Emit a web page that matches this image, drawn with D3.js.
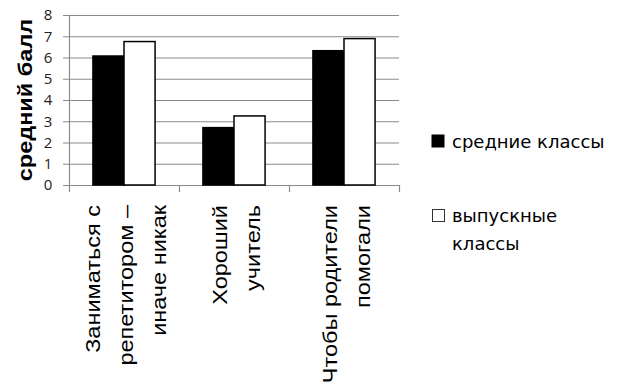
<!DOCTYPE html>
<html>
<head>
<meta charset="utf-8">
<script src="https://cdn.jsdelivr.net/npm/d3@7"></script>
<style>
  body { margin: 0; background: #fff; }
  svg { display: block; }
</style>
</head>
<body>
<svg id="chart" width="636" height="385"></svg>
<script>
const categories = [
  ['Заниматься с', 'репетитором –', 'иначе никак'],
  ['Хороший', 'учитель'],
  ['Чтобы родители', 'помогали']
]
const seriesNames = ['средние классы', 'выпускные классы']
const middleValues = [6.07, 2.7, 6.32]
const graduateValues = [6.75, 3.25, 6.89]
const yTicks = [0, 1, 2, 3, 4, 5, 6, 7, 8]

const svg = d3.select('#chart')
const plot = { left: 69, right: 399, top: 15, bottom: 185 }
// the picture is a bit stretched vertically, so rotated text runs longer
const stretch = 1.12

const x = d3.scaleBand()
  .domain(d3.range(categories.length))
  .range([plot.left, plot.right])
  .paddingInner(0)
  .paddingOuter(0)

const xs = d3.scaleBand()
  .domain([0, 1])
  .range([0, x.bandwidth()])
  .paddingInner(0)
  .paddingOuter(0.77)

const y = d3.scaleLinear().domain([0, 8]).range([plot.bottom, plot.top])

// gridlines + left ticks
svg.append('g')
  .selectAll('line')
  .data(yTicks)
  .join('line')
  .attr('x1', plot.left - 6)
  .attr('x2', plot.right)
  .attr('y1', (d) => y(d) + 0.5)
  .attr('y2', (d) => y(d) + 0.5)
  .attr('stroke', '#8c8c8c')
  .attr('stroke-width', 1.2)

// y axis line
svg.append('line')
  .attr('x1', plot.left + 0.5).attr('x2', plot.left + 0.5)
  .attr('y1', plot.top).attr('y2', plot.bottom)
  .attr('stroke', '#8c8c8c').attr('stroke-width', 1.2)

// bottom ticks between categories
const bounds = d3.range(categories.length + 1).map((i) => i < categories.length ? x(i) : plot.right)
svg.append('g')
  .selectAll('line')
  .data(bounds)
  .join('line')
  .attr('x1', (d) => d + 0.5)
  .attr('x2', (d) => d + 0.5)
  .attr('y1', plot.bottom)
  .attr('y2', plot.bottom + 7)
  .attr('stroke', '#8c8c8c')
  .attr('stroke-width', 1.2)

// y tick labels
svg.append('g')
  .selectAll('text')
  .data(yTicks)
  .join('text')
  .attr('x', 48)
  .attr('y', (d) => y(d))
  .attr('dy', '0.36em')
  .attr('text-anchor', 'middle')
  .attr('font-family', '"Open Sans", sans-serif')
  .attr('font-size', 15)
  .attr('fill', '#222')
  .text((d) => d)

// y axis title
svg.append('text')
  .attr('transform', `translate(32,100) rotate(-90) scale(${stretch},1)`)
  .attr('text-anchor', 'middle')
  .attr('font-family', '"Liberation Sans", Arial, sans-serif')
  .attr('font-weight', 'bold')
  .attr('font-size', 21)
  .attr('fill', '#000')
  .text('средний балл')

// bars
const series = [
  { name: seriesNames[0], values: middleValues, fill: '#000' },
  { name: seriesNames[1], values: graduateValues, fill: '#fff' }
]
series.forEach((s, si) => {
  svg.append('g')
    .selectAll('rect')
    .data(s.values)
    .join('rect')
    .attr('x', (d, i) => x(i) + xs(si))
    .attr('y', (d) => y(d))
    .attr('width', xs.bandwidth())
    .attr('height', (d) => y(0) - y(d))
    .attr('fill', s.fill)
    .attr('stroke', '#000')
    .attr('stroke-width', 1.5)
})

// category labels (rotated, multi-line)
const lineGap = 33
categories.forEach((lines, i) => {
  const cx = x(i) + x.bandwidth() / 2 + 2
  lines.forEach((line, li) => {
    const off = (li - (lines.length - 1) / 2) * lineGap
    svg.append('text')
      .attr('transform', `translate(${cx + off},205) rotate(-90) scale(${stretch},1)`)
      .attr('text-anchor', 'end')
      .attr('dominant-baseline', 'central')
      .attr('font-family', '"Liberation Sans", Arial, sans-serif')
      .attr('font-size', 21)
      .attr('fill', '#000')
      .text(line)
  })
})

// legend
const legend = svg.append('g').attr('font-family', '"DejaVu Sans", Verdana, sans-serif')
  .attr('font-size', 18).attr('fill', '#000')
legend.append('rect').attr('x', 432).attr('y', 135).attr('width', 12).attr('height', 12)
  .attr('fill', '#000').attr('stroke', '#000')
legend.append('text').attr('x', 452).attr('y', 148).text(seriesNames[0])
legend.append('rect').attr('x', 432.5).attr('y', 209.5).attr('width', 12).attr('height', 12)
  .attr('fill', '#fff').attr('stroke', '#333').attr('stroke-width', 1)
legend.append('text').attr('x', 452).attr('y', 222).text('выпускные')
legend.append('text').attr('x', 452).attr('y', 250).text('классы')
</script>
</body>
</html>
